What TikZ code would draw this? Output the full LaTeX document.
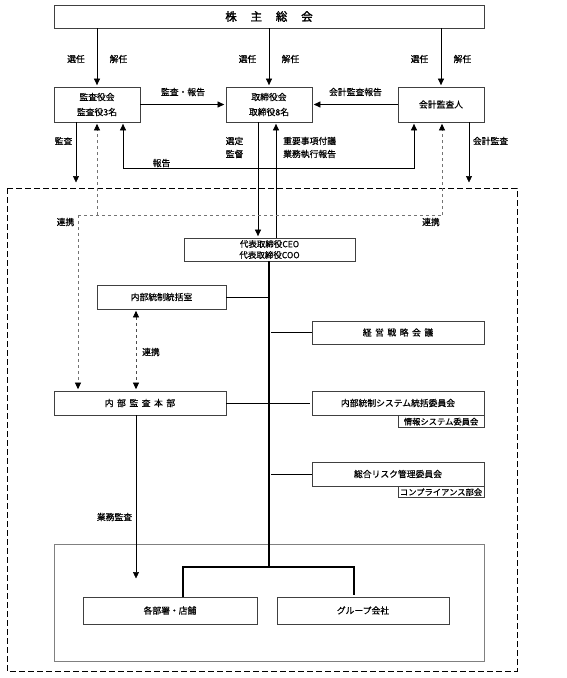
\documentclass[tikz,border=0pt]{standalone}
\usepackage{fontspec}
\newfontfamily\jpfont[FakeBold=0.6]{Noto Sans CJK JP}
\newfontfamily\jpbold[FakeBold=2]{Noto Sans CJK JP}
\usetikzlibrary{arrows.meta}

\begin{document}
\begin{tikzpicture}[x=1pt,y=-1pt,>={Triangle[length=6.5pt,width=6pt]},shorten >=1.5pt,
  every node/.style={inner sep=0pt,font=\jpfont\fontsize{8.8}{13}\selectfont},
  box/.style={draw=black!75,line width=0.7pt,minimum height=24pt,align=center},
  subbox/.style={draw=black!75,line width=0.6pt,minimum width=86pt,minimum height=12pt,font=\jpfont\fontsize{8.3}{9}\selectfont},
  conn/.style={line width=0.5pt},
  renkei/.style={dashed,black!55,line width=0.6pt},
  branch/.style={line width=0.9pt},
  trunk/.style={line width=1.2pt}]
\useasboundingbox (0,0) rectangle (567,678);

% frames
\draw[dash pattern=on 6pt off 3pt,line width=0.8pt] (7,188) rectangle (517,671);
\draw[black!50,line width=0.6pt] (54,544) rectangle (484,661);

% boxes
\node[box,minimum width=430pt,minimum height=23pt,font=\jpbold\fontsize{11.5}{13}\selectfont] (sokai) at (269,16.5) {株\hspace{1.2em}主\hspace{1.2em}総\hspace{1.2em}会};
\node[box,minimum width=86pt,minimum height=35pt] (kansa) at (97,104.5) {監査役会\\[2pt]監査役3名};
\node[box,minimum width=86pt,minimum height=35pt] (torishimari) at (269,104.5) {取締役会\\[2pt]取締役8名};
\node[box,minimum width=86pt,minimum height=35pt] (kaikei) at (441,104.5) {会計監査人};
\node[box,minimum width=171pt,minimum height=23pt,font=\jpfont\fontsize{8.5}{11}\selectfont] (ceo) at (269.5,249.5) {代表取締役CEO\\代表取締役COO};
\node[box,minimum width=129pt] (tosei) at (161.5,297) {内部統制統括室};
\node[box,minimum width=172pt,minimum height=23pt] (senryaku) at (398,332.5) {経\hspace{.4em}営\hspace{.4em}戦\hspace{.4em}略\hspace{.4em}会\hspace{.4em}議};
\node[box,minimum width=172pt] (kansahonbu) at (140,403) {内\hspace{.4em}部\hspace{.4em}監\hspace{.4em}査\hspace{.4em}本\hspace{.4em}部};
\node[box,minimum width=172pt] (system) at (398,403) {内部統制システム統括委員会};
\node[subbox,anchor=north east] (joho) at (system.south east) {情報システム委員会};
\node[box,minimum width=172pt] (risk) at (398,474) {総合リスク管理委員会};
\node[subbox,anchor=north east,minimum height=11pt] (comp) at (risk.south east) {コンプライアンス部会};
\node[box,minimum width=174pt,minimum height=27pt] (bumon) at (170,610.5) {各部署・店舗};
\node[box,minimum width=172pt,minimum height=27pt] (group) at (363,610.5) {グループ会社};

% points
\coordinate (kansaend) at (76,184);
\coordinate (kaikeiend) at (469,184);
\coordinate (hl) at (123,168);
\coordinate (hr) at (414,168);
\coordinate (sentei) at (258,180);
\coordinate (fugi) at (276,180);
\coordinate (rl) at (78,215);
\coordinate (rr) at (442,215);
\coordinate (rk) at (136,350);
\coordinate (gyomuend) at (136,580);
\coordinate (bl) at (183,567);
\coordinate (br) at (354,567);
\coordinate (bc) at (269,567);

% connectors
\draw[conn,->] (sokai.south -| kansa) -- (kansa.north);
\draw[conn,->] (sokai.south -| torishimari) -- (torishimari.north);
\draw[conn,->] (sokai.south -| kaikei) -- (kaikei.north);
\draw[conn,->] (kansa.east) -- (torishimari.west);
\draw[conn,->] (kaikei.west) -- (torishimari.east);
\draw[conn,->] (kansa.south -| kansaend) -- (kansaend);
\draw[conn,->] (kaikei.south -| kaikeiend) -- (kaikeiend);
\draw[conn,<->,shorten <=1.5pt] (kansa.south -| hl) -- (hl) -- (hr) -- (kaikei.south -| hr);
\draw[conn,->] (torishimari.south -| sentei) -- (ceo.north -| sentei);
\draw[conn,->] (ceo.north -| fugi) -- (torishimari.south -| fugi);
\draw[renkei] (rl) -- (rr);
\draw[renkei,-{Triangle[length=6.5pt,width=6pt,black]}] (rl) -- (kansahonbu.north -| rl);
\draw[renkei,-{Triangle[length=6.5pt,width=6pt,black]}] (rl -| kansa) -- (kansa.south);
\draw[renkei,-{Triangle[length=6.5pt,width=6pt,black]}] (rr) -- (kaikei.south -| rr);
\draw[renkei,black!70,{Triangle[length=6.5pt,width=6pt,black]}-{Triangle[length=6.5pt,width=6pt,black]},shorten <=1.5pt] (tosei.south -| rk) -- (kansahonbu.north -| rk);
\draw[conn,->] (kansahonbu.south -| gyomuend) -- (gyomuend);
\draw[trunk] (ceo.south -| bc) -- (bc);
\draw[trunk] (bumon.north -| bl) -- (bl) -- (br) -- (group.north -| br);
\draw[branch] (tosei.east) -- (tosei.east -| bc);
\draw[branch] (senryaku.west) -- (senryaku.west -| bc);
\draw[branch] (kansahonbu.east) -- (system.west);
\draw[branch] (risk.west) -- (risk.west -| bc);

% labels
\node (s1) at (76,59) {選任};   \node (k1) at (118.5,59) {解任};
\node (s2) at (247.5,59) {選任}; \node (k2) at (290.5,59) {解任};
\node (s3) at (419.5,59) {選任}; \node (k3) at (462.5,59) {解任};
\node (lkanhou) at (183,92) {監査・報告};
\node (lkaihou) at (355.5,92) {会計監査報告};
\node (lkansa) at (63.5,141) {監査};
\node (lkaikei) at (490.5,141) {会計監査};
\node[align=left] (lsentei) at (234.5,147.5) {選定\\監督};
\node[align=left,anchor=west] (lfugi) at (283,147.5) {重要事項付議\\業務執行報告};
\node (lhoukoku) at (161.5,163) {報告};
\node (lr1) at (65.5,222) {連携};
\node (lr2) at (431,222) {連携};
\node (lr3) at (151,352) {連携};
\node (lgyomu) at (114.5,517) {業務監査};
\end{tikzpicture}
\end{document}
